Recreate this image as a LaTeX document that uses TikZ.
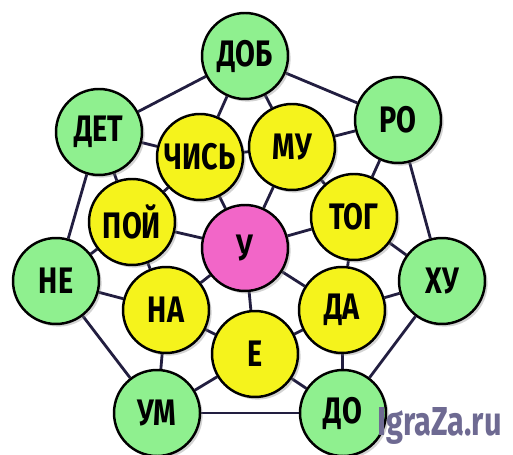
\documentclass[tikz,border=0pt]{standalone}
\usepackage{fontspec}
\setmainfont{Fira Sans}
\usepackage{xcolor}
\usetikzlibrary{backgrounds,shadows}

\definecolor{ballgreen}{HTML}{8FF08F}
\definecolor{ballyellow}{HTML}{F5F31C}
\definecolor{ballpink}{HTML}{F266C8}
\definecolor{linknavy}{HTML}{221E40}
\definecolor{markgray}{HTML}{6E6A92}

\tikzset{
  ball/.style={circle,draw=black,line width=1.4pt,minimum size=1.72cm,inner sep=0pt,
    font=\fontsize{21}{21}\bfseries,
    drop shadow={opacity=0.35,shadow xshift=1.5pt,shadow yshift=-1.5pt}},
  link/.style={draw=linknavy,line width=1.6pt}
}

\begin{document}
\begin{tikzpicture}[x=0.02cm,y=-0.02cm]
  % pixel grid of the reference, y downwards
  \useasboundingbox (0,0) rectangle (513,455);
  \def\lbl#1{\scalebox{0.78}[1]{#1}}
  % outer ring
  \foreach \n/\x/\y/\t in {dob/245/56/ДОБ, ro/398/120/РО, hu/442/281/ХУ, do/343/413/ДО,
                            um/157/413/УМ, ne/56/281/НЕ, det/99/132/ДЕТ}
    \node[ball,fill=ballgreen] (\n) at (\x,\y) {\lbl{\t}};
  % inner ring
  \foreach \n/\x/\y/\t in {chis/200/157/ЧИСЬ, mu/292/147/МУ, tog/354/217/ТОГ, da/342/310/ДА,
                            e/255/354/Е, na/166/310/НА, poj/132/222/ПОЙ}
    \node[ball,fill=ballyellow] (\n) at (\x,\y) {\lbl{\t}};
  \node[ball,fill=ballpink] (u) at (245,248) {\lbl{У}};
  \begin{scope}[on background layer]
    \foreach \a/\b in {dob/ro, ro/hu, hu/do, do/um, um/ne, ne/det, det/dob,
                       chis/mu, mu/tog, tog/da, da/e, e/na, na/poj, poj/chis,
                       dob/chis, dob/mu, ro/mu, ro/tog, hu/tog, hu/da, do/da, do/e,
                       um/e, um/na, ne/na, ne/poj, det/poj, det/chis}
      \draw[link] (\a) -- (\b);
    \foreach \b in {chis,mu,tog,da,e,na,poj} \draw[link] (u) -- (\b);
  \end{scope}
  % site mark, bottom right
  \node[anchor=base west,inner sep=0pt,text=markgray,font=\fontsize{23}{23}\bfseries] (mark) at (377,435)
    {\scalebox{0.76}[1]{IgraZa.ru}};
\end{tikzpicture}
\end{document}
